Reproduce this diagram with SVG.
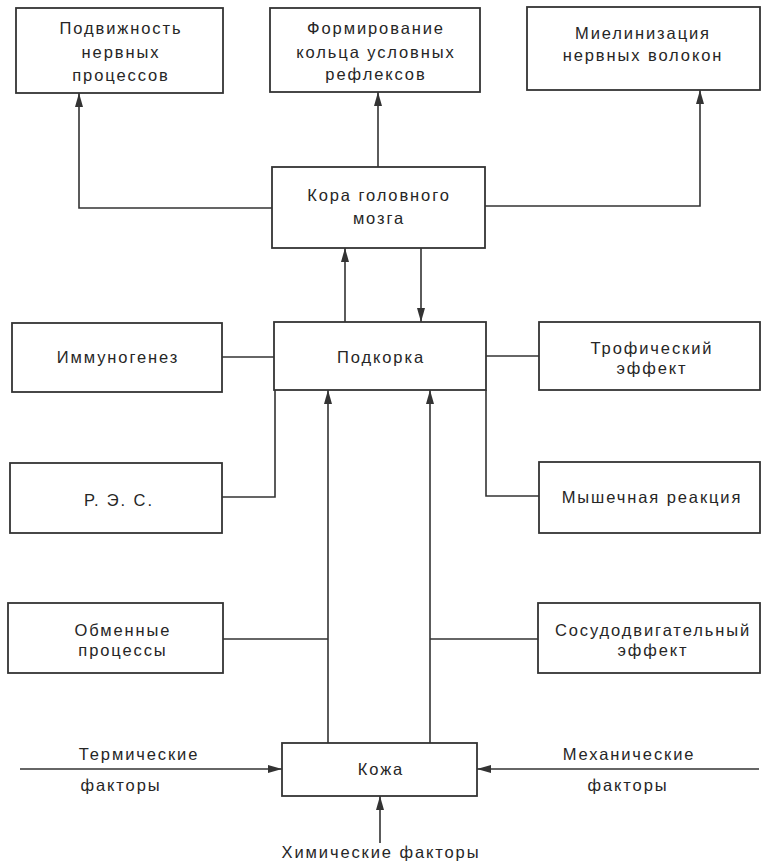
<svg xmlns="http://www.w3.org/2000/svg" width="761" height="862" viewBox="0 0 761 862">
<style>
  .box { fill: #fff; stroke: #333; stroke-width: 1.8; }
  .ln { fill: none; stroke: #333; stroke-width: 1.6; }
  text { font-family: "Liberation Sans", Arial, sans-serif; font-size: 16.5px; fill: #262626; text-anchor: middle; letter-spacing: 1.9px; }
</style>
<defs>
  <marker id="ah" viewBox="0 0 14 8" refX="14" refY="4" markerWidth="14" markerHeight="8" markerUnits="userSpaceOnUse" orient="auto">
    <path d="M0,0 L14,4 L0,8 Z" fill="#333"/>
  </marker>
</defs>
<rect width="761" height="862" fill="#fff"/>
<g id="connectors">
  <polyline class="ln" points="272,208 79,208 79,93" marker-end="url(#ah)"/>
  <line class="ln" x1="378" y1="167" x2="378" y2="92" marker-end="url(#ah)"/>
  <polyline class="ln" points="485,206 700,206 700,90" marker-end="url(#ah)"/>
  <line class="ln" x1="345" y1="322" x2="345" y2="248" marker-end="url(#ah)"/>
  <line class="ln" x1="421" y1="248" x2="421" y2="322" marker-end="url(#ah)"/>
  <line class="ln" x1="222" y1="357" x2="274" y2="357"/>
  <polyline class="ln" points="222,497 275,497 275,390"/>
  <line class="ln" x1="486" y1="356" x2="539" y2="356"/>
  <polyline class="ln" points="486,390 486,496 539,496"/>
  <line class="ln" x1="328" y1="743" x2="328" y2="390" marker-end="url(#ah)"/>
  <line class="ln" x1="430" y1="743" x2="430" y2="390" marker-end="url(#ah)"/>
  <line class="ln" x1="223" y1="639" x2="328" y2="639"/>
  <line class="ln" x1="430" y1="639" x2="538" y2="639"/>
  <line class="ln" x1="20" y1="769" x2="282" y2="769" marker-end="url(#ah)"/>
  <line class="ln" x1="759" y1="769" x2="477" y2="769" marker-end="url(#ah)"/>
  <line class="ln" x1="380" y1="843" x2="380" y2="796" marker-end="url(#ah)"/>
</g>
<g id="n-podvizhnost">
  <rect class="box" x="16" y="8" width="207" height="85"/>
  <text x="121" y="34">Подвижность</text>
  <text x="121" y="58">нервных</text>
  <text x="121" y="81">процессов</text>
</g>
<g id="n-formirovanie">
  <rect class="box" x="270" y="8" width="210" height="84"/>
  <text x="376" y="34">Формирование</text>
  <text x="376" y="58">кольца условных</text>
  <text x="376" y="80">рефлексов</text>
</g>
<g id="n-mielinizaciya">
  <rect class="box" x="527" y="7" width="233" height="83"/>
  <text x="643" y="39">Миелинизация</text>
  <text x="643" y="61">нервных волокон</text>
</g>
<g id="n-kora">
  <rect class="box" x="272" y="167" width="213" height="81"/>
  <text x="379" y="201">Кора головного</text>
  <text x="379" y="224">мозга</text>
</g>
<g id="n-podkorka">
  <rect class="box" x="274" y="322" width="212" height="68"/>
  <text x="381" y="363">Подкорка</text>
</g>
<g id="n-immunogenez">
  <rect class="box" x="12" y="323" width="210" height="69"/>
  <text x="118" y="363">Иммуногенез</text>
</g>
<g id="n-res">
  <rect class="box" x="10" y="463" width="212" height="70"/>
  <text x="119" y="506">Р. Э. С.</text>
</g>
<g id="n-troficheskiy">
  <rect class="box" x="539" y="322" width="221" height="68"/>
  <text x="652" y="354">Трофический</text>
  <text x="652" y="374">эффект</text>
</g>
<g id="n-myshechnaya">
  <rect class="box" x="539" y="462" width="221" height="71"/>
  <text x="652" y="503">Мышечная реакция</text>
</g>
<g id="n-obmennye">
  <rect class="box" x="8" y="603" width="215" height="70"/>
  <text x="123" y="636">Обменные</text>
  <text x="123" y="656">процессы</text>
</g>
<g id="n-sosudo">
  <rect class="box" x="538" y="603" width="222" height="70"/>
  <text x="653" y="636">Сосудодвигательный</text>
  <text x="653" y="656">эффект</text>
</g>
<g id="n-kozha">
  <rect class="box" x="282" y="743" width="195" height="53"/>
  <text x="381" y="775">Кожа</text>
</g>
<g id="labels">
  <text x="139" y="760">Термические</text>
  <text x="121" y="791">факторы</text>
  <text x="629" y="760">Механические</text>
  <text x="628" y="791">факторы</text>
  <text x="381" y="858">Химические факторы</text>
</g>
</svg>
